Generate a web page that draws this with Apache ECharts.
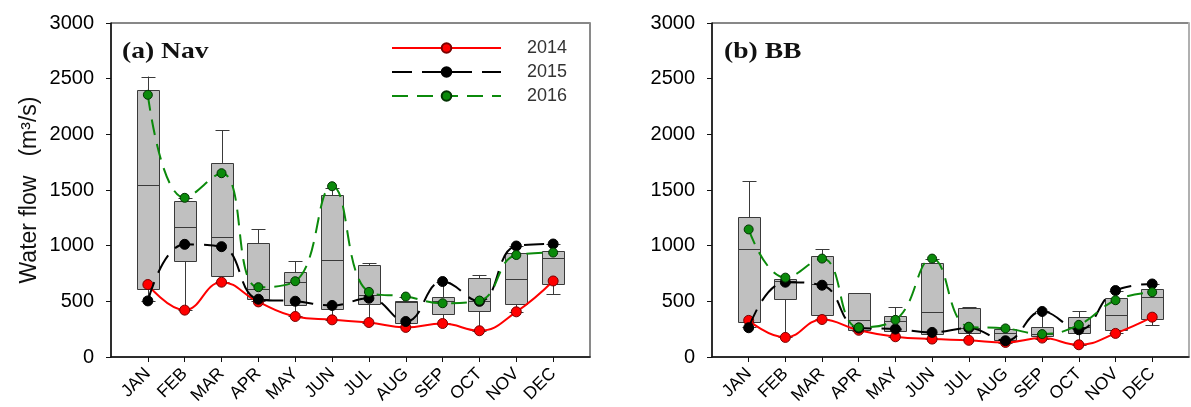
<!DOCTYPE html>
<html>
<head>
<meta charset="utf-8">
<script src="https://cdn.jsdelivr.net/npm/echarts@6/dist/echarts.min.js"></script>
<style>
html,body{margin:0;padding:0;background:#fff;}
#c{width:1191px;height:407px;}
</style>
</head>
<body>
<div id="c"></div>
<script>
// ---------- data ----------
const months = ['JAN','FEB','MAR','APR','MAY','JUN','JUL','AUG','SEP','OCT','NOV','DEC'];
const yTicks = [0, 500, 1000, 1500, 2000, 2500, 3000];
const years = ['2014', '2015', '2016'];

// (a) Nav : box statistics
const navMin = [500, 421, 678, 499, 364, 334, 310, 270, 304, 236, 403, 564];
const navQ1  = [609, 860, 725, 519, 463, 430, 475, 304, 388, 415, 475, 654];
const navMed = [1546, 1167, 1075, 615, 678, 872, 555, 490, 499, 507, 698, 887];
const navQ3  = [2397, 1400, 1743, 1021, 761, 1454, 824, 507, 537, 707, 931, 952];
const navMax = [2519, 1430, 2036, 1149, 860, 1522, 842, 543, 678, 737, 997, 1015];
const nav2014 = [651, 421, 672, 495, 364, 334, 310, 266, 301, 236, 406, 683];
const nav2015 = [504, 1012, 991, 519, 501, 463, 528, 319, 678, 500, 997, 1015];
const nav2016 = [2355, 1430, 1651, 627, 681, 1534, 585, 543, 483, 507, 916, 938];

// (b) BB : box statistics
const bbMin = [269, 176, 340, 236, 182, 161, 150, 125, 164, 110, 215, 287];
const bbQ1  = [313, 519, 376, 245, 236, 206, 212, 155, 185, 212, 239, 340];
const bbMed = [970, 680, 654, 334, 319, 403, 262, 215, 206, 266, 373, 537];
const bbQ3  = [1254, 700, 907, 573, 364, 842, 439, 254, 269, 355, 528, 609];
const bbMax = [1579, 705, 967, 573, 448, 880, 445, 258, 409, 409, 597, 654];
const bb2014 = [329, 176, 337, 240, 182, 161, 150, 131, 170, 110, 212, 358];
const bb2015 = [263, 672, 645, 260, 251, 221, 260, 146, 409, 245, 597, 656];
const bb2016 = [1146, 713, 884, 266, 334, 884, 272, 257, 206, 289, 510, 582];

// ---------- helpers ----------
const axisCats = [''].concat(months, ['']);
const FONT = '"Liberation Sans", Arial, sans-serif';
const RED = '#ff0000', BLACK = '#000000', GREEN = '#0b8a0b';

function boxData(mn, q1, md, q3, mx) {
  return months.map((m, i) => [i + 1, mn[i], q1[i], md[i], q3[i], mx[i]]);
}
function lineData(arr) { return arr.map((v, i) => [i + 1, v]); }

function renderBox(params, api) {
  const x = api.value(0);
  const pMin = api.coord([x, api.value(1)]);
  const pQ1 = api.coord([x, api.value(2)]);
  const pMed = api.coord([x, api.value(3)]);
  const pQ3 = api.coord([x, api.value(4)]);
  const pMax = api.coord([x, api.value(5)]);
  const cx = Math.round(pMin[0]) + 0.5;
  const bw = 22, cw = 14;
  const st = { stroke: '#3a3a3a', lineWidth: 1 };
  const ch = [];
  if (pMin[1] - pQ1[1] > 0.5) {
    ch.push({ type: 'line', shape: { x1: cx, y1: pQ1[1], x2: cx, y2: pMin[1] }, style: st });
    ch.push({ type: 'line', shape: { x1: cx - cw / 2, y1: Math.round(pMin[1]) + 0.5, x2: cx + cw / 2, y2: Math.round(pMin[1]) + 0.5 }, style: st });
  }
  if (pQ3[1] - pMax[1] > 0.5) {
    ch.push({ type: 'line', shape: { x1: cx, y1: pMax[1], x2: cx, y2: pQ3[1] }, style: st });
    ch.push({ type: 'line', shape: { x1: cx - cw / 2, y1: Math.round(pMax[1]) + 0.5, x2: cx + cw / 2, y2: Math.round(pMax[1]) + 0.5 }, style: st });
  }
  const yT = Math.round(pQ3[1]) + 0.5, yB = Math.round(pQ1[1]) + 0.5;
  ch.push({ type: 'rect', shape: { x: cx - bw / 2, y: yT, width: bw, height: yB - yT }, style: { fill: '#c0c0c0', stroke: '#3a3a3a', lineWidth: 1 } });
  const ym = Math.round(pMed[1]) + 0.5;
  ch.push({ type: 'line', shape: { x1: cx - bw / 2, y1: ym, x2: cx + bw / 2, y2: ym }, style: st });
  return { type: 'group', children: ch };
}

function xAxisFor(gi) {
  return {
    type: 'category', gridIndex: gi, data: axisCats, boundaryGap: false,
    axisLine: { lineStyle: { color: '#111', width: 1.5 } },
    axisTick: { show: true, length: 5, interval: (i) => i > 0 && i < 13, lineStyle: { color: '#111' } },
    axisLabel: { interval: 0, rotate: 45, fontSize: 17.5, color: '#000', fontFamily: FONT, margin: 14 },
    splitLine: { show: false }
  };
}
function yAxisFor(gi, withName) {
  const ax = {
    type: 'value', gridIndex: gi, min: yTicks[0], max: yTicks[yTicks.length - 1], interval: 500,
    axisLine: { show: true, lineStyle: { color: '#111', width: 1.5 } },
    axisTick: { show: true, length: 5, lineStyle: { color: '#111' } },
    axisLabel: { fontSize: 20, color: '#000', fontFamily: FONT, margin: 17, formatter: (v) => String(v) },
    splitLine: { show: false }
  };
  if (withName) {
    ax.name = 'Water flow   (m\u00B3/s)';
    ax.nameLocation = 'middle';
    ax.nameGap = 70;
    ax.nameRotate = 90;
    ax.nameTextStyle = { fontSize: 23, color: '#111', fontFamily: FONT };
  }
  return ax;
}
function rightFrame(gi, color) {
  return {
    type: 'value', gridIndex: gi, position: 'right', min: 0, max: 3000,
    axisLine: { show: true, lineStyle: { color: color, width: 2 } },
    axisTick: { show: false }, axisLabel: { show: false }, splitLine: { show: false }
  };
}

function lineSeries(name, arr, gi, color, dash, mk, mkBorder, z) {
  return {
    name: name, type: 'line', xAxisIndex: gi, yAxisIndex: gi * 2,
    data: lineData(arr), smooth: 0.45, symbol: 'circle', symbolSize: mk,
    lineStyle: { color: color, width: 2, type: dash },
    itemStyle: { color: color, borderColor: mkBorder, borderWidth: 1 },
    z: z, animation: false, silent: true
  };
}

const chart = echarts.init(document.getElementById('c'), null, { renderer: 'canvas' });
chart.setOption({
  animation: false,
  backgroundColor: '#fff',
  grid: [
    { left: 111, top: 23, width: 479, height: 336, show: true, borderColor: '#111', borderWidth: 1, backgroundColor: 'transparent' },
    { left: 712, top: 23, width: 478, height: 336, show: true, borderColor: '#111', borderWidth: 1, backgroundColor: 'transparent' }
  ],
  xAxis: [xAxisFor(0), xAxisFor(1)],
  yAxis: [yAxisFor(0, true), rightFrame(0, '#8a8a8a'), yAxisFor(1, false), rightFrame(1, '#b0b0b0')],
  legend: {
    data: years, orient: 'vertical', left: 386, top: 34, padding: 5,
    itemWidth: 109, itemHeight: 12, itemGap: 6, selectedMode: false,
    textStyle: { fontSize: 18, color: '#333', fontFamily: FONT, padding: [0, 0, 0, 21] }
  },
  graphic: [
    { type: 'text', x: 122, y: 41, scaleX: 1.2, style: { text: '(a) Nav', font: 'bold 23px "Liberation Serif", "Times New Roman", serif', fill: '#111', textVerticalAlign: 'top' } },
    { type: 'text', x: 724, y: 41, scaleX: 1.2, style: { text: '(b) BB', font: 'bold 23px "Liberation Serif", "Times New Roman", serif', fill: '#111', textVerticalAlign: 'top' } }
  ],
  series: [
    { type: 'custom', xAxisIndex: 0, yAxisIndex: 0, renderItem: renderBox, data: boxData(navMin, navQ1, navMed, navQ3, navMax), z: 1, silent: true },
    { type: 'custom', xAxisIndex: 1, yAxisIndex: 2, renderItem: renderBox, data: boxData(bbMin, bbQ1, bbMed, bbQ3, bbMax), z: 1, silent: true },
    lineSeries('2014', nav2014, 0, RED, 'solid', 10, '#7a0000', 3),
    lineSeries('2015', nav2015, 0, BLACK, [20, 10], 10, '#000', 4),
    lineSeries('2016', nav2016, 0, GREEN, [16, 9], 9, '#033303', 5),
    lineSeries('2014', bb2014, 1, RED, 'solid', 10, '#7a0000', 3),
    lineSeries('2015', bb2015, 1, BLACK, [20, 10], 10, '#000', 4),
    lineSeries('2016', bb2016, 1, GREEN, [16, 9], 9, '#033303', 5)
  ]
});
</script>
</body>
</html>
